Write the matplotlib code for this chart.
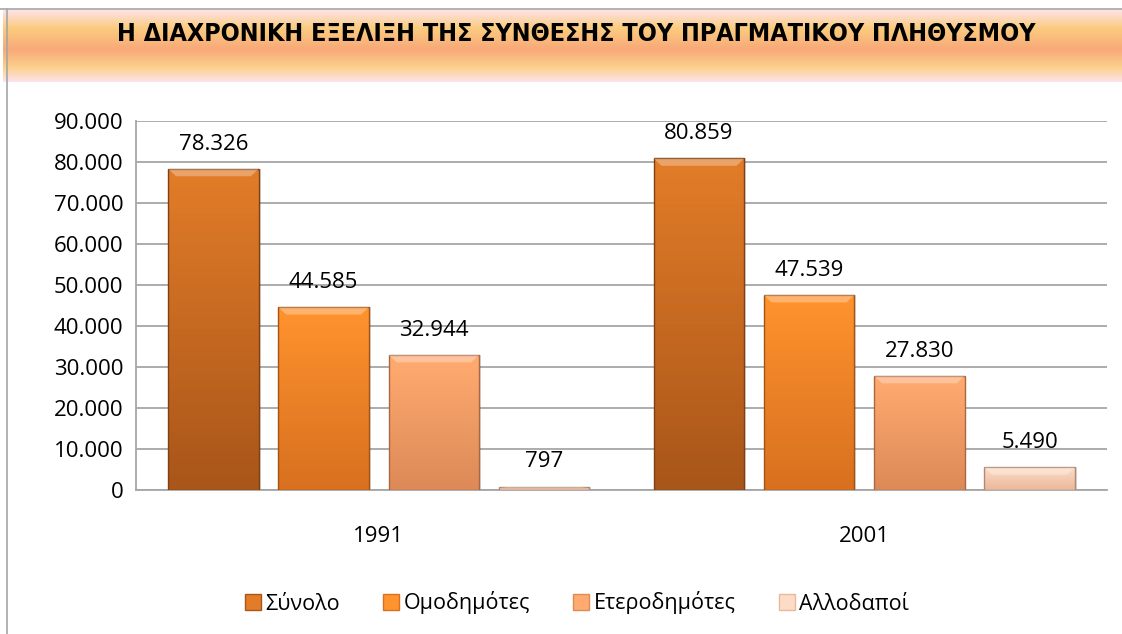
import matplotlib.pyplot as plt
import numpy as np
from matplotlib.patches import Rectangle, Patch, Polygon
from matplotlib.colors import LinearSegmentedColormap, to_rgb

# Δεδομένα
years = ["1991", "2001"]
series = ["Σύνολο", "Ομοδημότες", "Ετεροδημότες", "Αλλοδαποί"]
synolo = [78326, 80859]
omodimotes = [44585, 47539]
eterodimotes = [32944, 27830]
allodapoi = [797, 5490]
values = [synolo, omodimotes, eterodimotes, allodapoi]
yticks = [0, 10000, 20000, 30000, 40000, 50000, 60000, 70000, 80000, 90000]
title = "Η ΔΙΑΧΡΟΝΙΚΗ ΕΞΕΛΙΞΗ ΤΗΣ ΣΥΝΘΕΣΗΣ ΤΟΥ ΠΡΑΓΜΑΤΙΚΟΥ ΠΛΗΘΥΣΜΟΥ"

# χρώματα (πάνω, κάτω) για κάθε σειρά
colors = [("#E27C28", "#A9561A"), ("#FF932E", "#D8701F"),
          ("#FFAB70", "#DE8A58"), ("#FCDCC6", "#EBB89C")]

plt.rcParams['font.family'] = ['Open Sans', 'DejaVu Sans']

W, H = 1122, 634
fig = plt.figure(figsize=(W / 100, H / 100), dpi=100)

def fmt(v):
    return f"{v:,}".replace(",", ".")

# banner τίτλου
bax = fig.add_axes([3 / W, 1 - 82 / H, 1 - 3 / W, 72 / H])
stops = [(0.0, "#FDE3E6"), (0.25, "#FBCB7E"), (0.55, "#F8A979"),
         (0.8, "#FBD08C"), (1.0, "#FDE3EA")]
cmap_b = LinearSegmentedColormap.from_list("banner", stops)
bax.imshow(np.linspace(0, 1, 100).reshape(-1, 1), cmap=cmap_b, aspect="auto",
           extent=[0, 1, 0, 1], origin="upper")
bax.set_axis_off()
bax.text(0.512, 0.67, title, ha="center", va="center", fontsize=18,
         fontweight="bold", fontstretch="condensed", family=["DejaVu Sans"],
         transform=bax.transAxes)

# πλαίσιο
fig.add_artist(plt.Line2D([7 / W, 7 / W], [0, 1 - 9 / H], color="#A6A6A6", lw=1.2))
fig.add_artist(plt.Line2D([0, 1], [1 - 9 / H, 1 - 9 / H], color="#A6A6A6", lw=1.2))

ax = fig.add_axes([136 / W, (H - 490) / H, 971 / W, 369 / H])
ax.set_ylim(0, 90000)
ax.set_xlim(-0.5, 1.5)

step = 0.227
width = 0.186
x = np.arange(len(years))

for i, (vals, (ctop, cbot)) in enumerate(zip(values, colors)):
    cm = LinearSegmentedColormap.from_list(f"c{i}", [cbot, ctop])
    for j, v in enumerate(vals):
        xc = x[j] + (i - 1.5) * step
        x0, x1 = xc - width / 2, xc + width / 2
        # σκιά
        ax.add_patch(Rectangle((x0 + 0.004, 0), width, v, facecolor="#00000022",
                               edgecolor="none", zorder=2))
        im = ax.imshow(np.linspace(0, 1, 50).reshape(-1, 1), cmap=cm, aspect="auto",
                       extent=[x0, x1, 0, v], origin="lower", zorder=3)
        rect = Rectangle((x0, 0), width, v, facecolor="none",
                         edgecolor=tuple(c * 0.75 for c in to_rgb(cbot)), lw=1.0, zorder=4)
        ax.add_patch(rect)
        im.set_clip_path(rect)
        # λοξή ανοιχτή κορυφή
        bev = min(1800, v * 0.4)
        dx = 0.016
        ax.add_patch(Polygon([(x0, v), (x1, v), (x1 - dx, v - bev), (x0 + dx, v - bev)],
                             closed=True, facecolor="white", alpha=0.3,
                             edgecolor="none", zorder=4))
        ax.text(xc, v + 3500, fmt(v), ha="center", va="bottom", fontsize=16, zorder=5)

ax.set_xlim(-0.5, 1.5)
ax.set_ylim(0, 90000)
ax.set_yticks(yticks)
ax.set_yticklabels([fmt(t) for t in yticks], fontsize=16)
ax.set_xticks(x)
ax.set_xticklabels(years, fontsize=16)
ax.tick_params(axis="y", length=0, pad=9)
ax.tick_params(axis="x", length=0, pad=26)
ax.grid(axis="y", color="#A6A6A6", lw=1.3, zorder=0)
ax.set_axisbelow(True)
for s in ["top", "right"]:
    ax.spines[s].set_visible(False)
ax.spines["left"].set_color("#A6A6A6")
ax.spines["bottom"].set_color("#A6A6A6")
ax.spines["left"].set_linewidth(1.3)
ax.spines["bottom"].set_linewidth(1.3)

handles = [Patch(facecolor=c[0], edgecolor=c[1]) for c in colors]
fig.legend(handles, series, loc="center", bbox_to_anchor=(577 / W, (H - 603) / H),
           ncol=4, frameon=False, fontsize=15.5, handlelength=0.75, handleheight=0.75,
           handletextpad=0.2, columnspacing=2.0)

fig.savefig("out.png", dpi=100)
